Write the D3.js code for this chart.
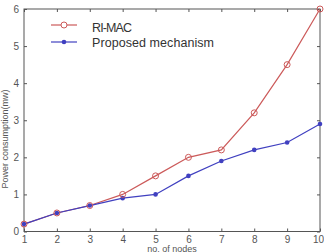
<!DOCTYPE html>
<html>
<head>
<meta charset="utf-8">
<script src="https://cdn.jsdelivr.net/npm/d3@7"></script>
<style>
  body { margin: 0; background: #fff; }
  svg { display: block; font-family: "Liberation Sans", Arial, sans-serif; }
</style>
</head>
<body>
<div id="chart"></div>
<script>
const nodes = [1, 2, 3, 4, 5, 6, 7, 8, 9, 10];
const riMac = [0.2, 0.5, 0.7, 1.0, 1.5, 2.0, 2.2, 3.2, 4.5, 6.0];
const proposed = [0.2, 0.5, 0.7, 0.9, 1.0, 1.5, 1.9, 2.2, 2.4, 2.9];
const yTicks = [0, 1, 2, 3, 4, 5, 6];

const width = 324, height = 252,
    margin = ({ top: 9, right: 4, bottom: 20, left: 24 });

const svg = d3.select("#chart")
    .append("svg")
    .attr("width", width)
    .attr("height", height);

const x = d3.scaleLinear()
    .domain([1, 10])
    .range([margin.left, width - margin.right]);

const y = d3.scaleLinear()
    .domain([0, 6])
    .range([height - margin.bottom - 0.5, margin.top]);

// ticks on all four sides, pointing inwards (matlab style)
const tickStyle = g => {
    g.select(".domain").remove();
    g.selectAll(".tick line").attr("stroke", "#555");
    g.selectAll(".tick text").attr("fill", "#555").attr("font-size", 10);
};

svg.append("g")
    .attr("transform", `translate(0,${y(0)})`)
    .call(d3.axisBottom(x).tickValues(nodes).tickSizeInner(-3).tickSizeOuter(0).tickPadding(4).tickFormat(d3.format("d")))
    .call(tickStyle)
    .select(".tick:last-of-type text")
    .attr("dx", -2);

svg.append("g")
    .attr("transform", `translate(0,${y(6)})`)
    .call(d3.axisTop(x).tickValues(nodes).tickSizeInner(-3).tickSizeOuter(0).tickFormat(""))
    .call(tickStyle);

svg.append("g")
    .attr("transform", `translate(${x(1)},0)`)
    .call(d3.axisLeft(y).tickValues(yTicks).tickSizeInner(-3).tickSizeOuter(0).tickPadding(5).tickFormat(d3.format("d")))
    .call(tickStyle);

svg.append("g")
    .attr("transform", `translate(${x(10)},0)`)
    .call(d3.axisRight(y).tickValues(yTicks).tickSizeInner(-3).tickSizeOuter(0).tickFormat(""))
    .call(tickStyle);

// frame
svg.append("rect")
    .attr("x", x(1))
    .attr("y", y(6))
    .attr("width", x(10) - x(1))
    .attr("height", y(0) - y(6))
    .attr("fill", "none")
    .attr("stroke", "#555")
    .attr("stroke-width", 1);

// axis labels
svg.append("text")
    .attr("text-anchor", "middle")
    .attr("x", (x(1) + x(10)) / 2)
    .attr("y", 251.5)
    .attr("font-size", 9)
    .attr("fill", "#555")
    .text("no. of nodes");

svg.append("text")
    .attr("text-anchor", "middle")
    .attr("transform", "translate(8,139) rotate(-90)")
    .attr("font-size", 9)
    .attr("fill", "#555")
    .text("Power consumption(mw)");

const line = d3.line()
    .x((d, i) => x(nodes[i]))
    .y(d => y(d));

const red = "#cc5a5a", blue = "#4040c0";

// RI-MAC
svg.append("path")
    .datum(riMac)
    .attr("fill", "none")
    .attr("stroke", red)
    .attr("stroke-width", 1.2)
    .attr("d", line);

// proposed
svg.append("path")
    .datum(proposed)
    .attr("fill", "none")
    .attr("stroke", blue)
    .attr("stroke-width", 1.2)
    .attr("d", line);

svg.selectAll(".pt-blue")
    .data(proposed)
    .join("circle")
    .attr("class", "pt-blue")
    .attr("cx", (d, i) => x(nodes[i]))
    .attr("cy", d => y(d))
    .attr("r", 2.3)
    .attr("fill", blue);

svg.selectAll(".pt-red")
    .data(riMac)
    .join("circle")
    .attr("class", "pt-red")
    .attr("cx", (d, i) => x(nodes[i]))
    .attr("cy", d => y(d))
    .attr("r", 3)
    .attr("fill", "none")
    .attr("stroke", red)
    .attr("stroke-width", 1);

// legend
const legend = svg.append("g");

legend.append("line")
    .attr("x1", 51).attr("x2", 77)
    .attr("y1", 25).attr("y2", 25)
    .attr("stroke", red).attr("stroke-width", 1.2);
legend.append("circle")
    .attr("cx", 64).attr("cy", 25).attr("r", 3)
    .attr("fill", "#fff").attr("stroke", red);
legend.append("text")
    .attr("x", 92).attr("y", 32)
    .attr("font-size", 12.5)
    .attr("fill", "#333")
    .attr("textLength", 40)
    .text("RI-MAC");

legend.append("line")
    .attr("x1", 51).attr("x2", 77)
    .attr("y1", 42).attr("y2", 42)
    .attr("stroke", blue).attr("stroke-width", 1.2);
legend.append("circle")
    .attr("cx", 64).attr("cy", 42).attr("r", 2.3)
    .attr("fill", blue);
legend.append("text")
    .attr("x", 92).attr("y", 47)
    .attr("font-size", 12.5)
    .attr("fill", "#333")
    .attr("textLength", 122)
    .text("Proposed mechanism");
</script>
</body>
</html>
